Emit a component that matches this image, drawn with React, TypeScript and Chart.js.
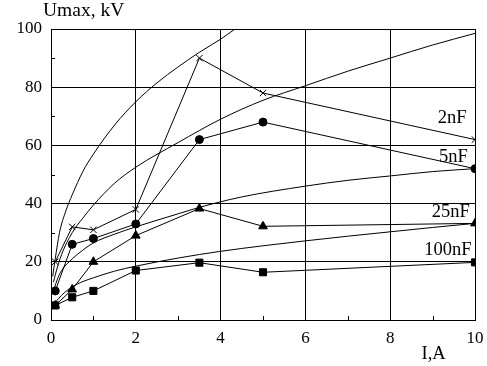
import React, { useEffect, useRef } from "react";
import { Chart, registerables } from "chart.js";

Chart.register(...registerables);

// Axis ticks
const xTickValues = [0, 2, 4, 6, 8, 10];
const yTickValues = [0, 20, 40, 60, 80, 100];
const xMinorTicks = [1, 3, 5, 7, 9];
const yMinorTicks = [10, 30, 50, 70, 90];

// Experimental data: current I (A) and Umax (kV)
const currentI = [0.1, 0.5, 1, 2, 3.5, 5, 10];
const exp2nF = [20, 32, 31, 38, 90, 78, 62];
const exp5nF = [10, 26, 28, 33, 62, 68, 52];
const exp25nF = [5, 10.5, 20, 29, 38.3, 32.2, 33.2];
const exp100nF = [5, 7.8, 10, 17, 19.7, 16.4, 19.8];

// Theoretical curves
const th2nF_I = [0.04, 0.1, 0.2, 0.35, 0.5, 0.75, 1, 1.5, 2, 2.5, 3, 3.5, 4, 4.34];
const th2nF_U = [15, 21, 30, 37.5, 43, 51, 57, 67, 75, 81.5, 87, 92, 96.5, 100];
const th5nF_I = [0.06, 0.1, 0.25, 0.5, 0.75, 1, 1.5, 2, 3, 4, 5, 6, 7, 8, 9, 10];
const th5nF_U = [13, 15.5, 22.5, 30, 35, 39.5, 47, 52.5, 61, 69, 75.5, 80.5, 85.5, 90, 94.5, 98.5];
const th25nF_I = [0.08, 0.15, 0.25, 0.5, 0.75, 1, 1.5, 2, 3, 3.5, 4.5, 6, 7, 8, 9, 10];
const th25nF_U = [11, 14, 17, 21, 24, 26.5, 29.5, 32, 36.5, 38.7, 42.3, 46, 48, 49.5, 51, 52];
const th100nF_I = [0.1, 0.25, 0.5, 0.75, 1, 1.5, 2, 3, 4, 5, 6, 7, 8, 9, 10];
const th100nF_U = [6, 8.5, 11.4, 13.2, 14.5, 16.8, 18.5, 21.3, 23.6, 25.5, 27.2, 28.8, 30.3, 31.8, 33.2];

// Curve labels
const curveLabels = ["2nF", "5nF", "25nF", "100nF"];
const curveLabelI = [9.8, 9.83, 9.88, 9.92];
const curveLabelU = [67.7, 54.4, 35.5, 22.3];

const yTitle = "Umax, kV";
const xTitle = "I,A";

const FONT = "'Liberation Serif', 'Times New Roman', Tinos, serif";

const zip = (xs: number[], ys: number[]) => xs.map((x, i) => ({ x, y: ys[i] }));

const extrasPlugin = {
  id: "extras",
  afterDraw(chart: any) {
    const ctx = chart.ctx;
    const xs = chart.scales.x;
    const ys = chart.scales.y;
    const area = chart.chartArea;
    ctx.save();
    ctx.strokeStyle = "#000";
    ctx.lineWidth = 1;
    ctx.beginPath();
    xMinorTicks.forEach((v) => {
      const px = Math.round(xs.getPixelForValue(v)) + 0.5;
      ctx.moveTo(px, area.bottom);
      ctx.lineTo(px, area.bottom - 4);
    });
    yMinorTicks.forEach((v) => {
      const py = Math.round(ys.getPixelForValue(v)) + 0.5;
      ctx.moveTo(area.left, py);
      ctx.lineTo(area.left + 4, py);
    });
    ctx.stroke();

    ctx.fillStyle = "#000";
    ctx.textBaseline = "alphabetic";
    ctx.textAlign = "right";
    ctx.font = `18.5px ${FONT}`;
    curveLabels.forEach((t, i) => {
      ctx.fillText(t, xs.getPixelForValue(curveLabelI[i]), ys.getPixelForValue(curveLabelU[i]));
    });
    ctx.textAlign = "left";
    ctx.font = `19.5px ${FONT}`;
    ctx.fillText(yTitle, 43, 15.5);
    ctx.font = `18.5px ${FONT}`;
    ctx.fillText(xTitle, 421.5, 358.5);
    ctx.restore();
  },
};

export default function App() {
  const ref = useRef<HTMLCanvasElement | null>(null);
  useEffect(() => {
    let chart: any = null;
    let cancelled = false;
    const build = () => {
      if (cancelled || !ref.current) return;
      const expStyle = (style: string, radius: number) => ({
        showLine: true,
        tension: 0,
        borderColor: "#000",
        borderWidth: 1,
        pointStyle: style,
        pointRadius: radius,
        pointBackgroundColor: "#000",
        pointBorderColor: "#000",
        pointBorderWidth: 1,
      });
      const thStyle = {
        showLine: true,
        borderColor: "#000",
        borderWidth: 1,
        pointRadius: 0,
        cubicInterpolationMode: "monotone" as const,
      };
      chart = new Chart(ref.current, {
        type: "scatter",
        data: {
          datasets: [
            { label: "2nF exp", data: zip(currentI, exp2nF), ...expStyle("crossRot", 4.5) },
            { label: "5nF exp", data: zip(currentI, exp5nF), ...expStyle("circle", 4) },
            { label: "25nF exp", data: zip(currentI, exp25nF), ...expStyle("triangle", 5) },
            { label: "100nF exp", data: zip(currentI, exp100nF), ...expStyle("rect", 5) },
            { label: "2nF th", data: zip(th2nF_I, th2nF_U), ...thStyle },
            { label: "5nF th", data: zip(th5nF_I, th5nF_U), ...thStyle },
            { label: "25nF th", data: zip(th25nF_I, th25nF_U), ...thStyle },
            { label: "100nF th", data: zip(th100nF_I, th100nF_U), ...thStyle },
          ],
        },
        options: {
          animation: false,
          responsive: false,
          devicePixelRatio: 1,
          layout: { padding: { left: 0, right: 12, top: 29, bottom: 0 } },
          plugins: { legend: { display: false }, tooltip: { enabled: false } },
          scales: {
            x: {
              type: "linear",
              min: 0,
              max: 10,
              afterBuildTicks: (s: any) => {
                s.ticks = xTickValues.map((v) => ({ value: v }));
              },
              afterFit: (s: any) => {
                s.height = 46;
                s.paddingLeft = 0;
                s.paddingRight = 0;
                s.paddingTop = 0;
                s.paddingBottom = 0;
              },
              grid: { color: "#000", lineWidth: 1, drawTicks: false },
              border: { color: "#000", width: 1 },
              ticks: { color: "#000", font: { family: FONT, size: 17 }, padding: 8, maxRotation: 0 },
            },
            y: {
              type: "linear",
              min: 0,
              max: 100,
              afterBuildTicks: (s: any) => {
                s.ticks = yTickValues.map((v) => ({ value: v }));
              },
              afterFit: (s: any) => {
                s.width = 51;
                s.paddingLeft = 0;
                s.paddingRight = 0;
                s.paddingTop = 0;
                s.paddingBottom = 0;
              },
              grid: { color: "#000", lineWidth: 1, drawTicks: false },
              border: { color: "#000", width: 1 },
              ticks: { color: "#000", font: { family: FONT, size: 17 }, padding: 9 },
            },
          },
        },
        plugins: [extrasPlugin],
      } as any);
    };
    const fonts: any = (document as any).fonts;
    if (fonts && fonts.load) {
      Promise.all([
        fonts.load(`17px 'Liberation Serif'`),
        fonts.load(`18px 'Liberation Serif'`),
      ]).then(build, build);
    } else {
      build();
    }
    return () => {
      cancelled = true;
      if (chart) chart.destroy();
    };
  }, []);
  return (
    <div style={{ position: "absolute", left: 0, top: 0, width: 487, height: 366, background: "#fff" }}>
      <canvas ref={ref} width={487} height={366} style={{ display: "block", width: 487, height: 366 }} />
    </div>
  );
}
